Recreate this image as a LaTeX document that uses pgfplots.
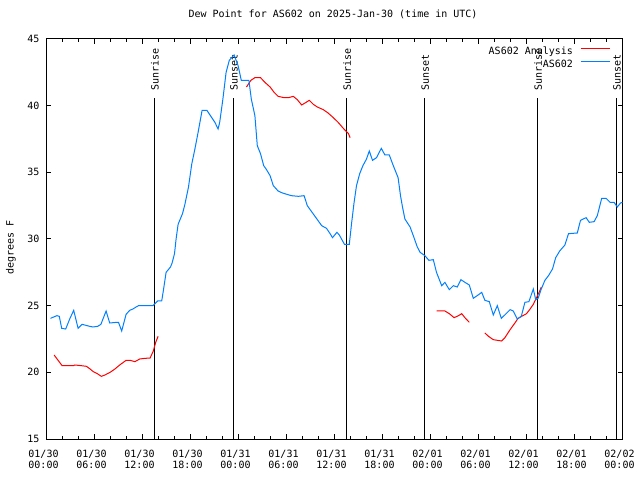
\documentclass[border=0pt]{standalone}
\usepackage{pgfplots}
\pgfplotsset{compat=1.18}
\usepackage{fontspec}
\setmainfont{DejaVu Sans Mono}
\definecolor{anared}{RGB}{255,0,0}
\definecolor{obsblue}{RGB}{0,128,255}
\begin{document}
\fontsize{10bp}{11bp}\selectfont
\begin{tikzpicture}
\useasboundingbox (-46.5bp,-41bp) rectangle (593.5bp,439bp);
\begin{axis}[
  scale only axis, width=576bp, height=400bp,
  xmin=0, xmax=72, ymin=15, ymax=45,
  xtick={0,6,...,72},
  xticklabels={{01/30\\00:00},{01/30\\06:00},{01/30\\12:00},{01/30\\18:00},
               {01/31\\00:00},{01/31\\06:00},{01/31\\12:00},{01/31\\18:00},
               {02/01\\00:00},{02/01\\06:00},{02/01\\12:00},{02/01\\18:00},
               {02/02\\00:00}},
  minor x tick num=2,
  ytick={15,20,...,45},
  tick align=inside,
  major tick length=5bp, minor tick length=3bp,
  every tick/.append style={black, line width=1bp},
  axis line style={black, line width=1bp},
  /pgf/number format/assume math mode=true,
  ticklabel style={font=\fontsize{10bp}{11bp}\selectfont},
  xticklabel style={align=center, anchor=north, inner sep=0pt, yshift=-11bp, xshift=-3bp},
  yticklabel style={anchor=east, inner sep=0pt, xshift=-7bp},
  title={Dew Point for AS602 on 2025-Jan-30 (time in UTC)},
  title style={at={(axis description cs:0.4974,1.0475)}, anchor=center, inner sep=0pt, font=\fontsize{10bp}{11bp}\selectfont},
  ylabel={degrees F},
  ylabel style={at={(axis description cs:-0.0616,0.479)}, anchor=center, inner sep=0pt, font=\fontsize{10bp}{11bp}\selectfont},
  unbounded coords=jump,
  legend plot pos=right,
  legend cell align=right,
  legend image code/.code={\draw[#1] (0bp,3.5bp) -- (29bp,3.5bp);},
  legend style={draw=none, fill=none, inner sep=0pt, outer sep=0pt,
    at={(axis description cs:0.9783,0.981)}, anchor=north east,
    row sep=3bp, column sep=7bp,
    nodes={inner sep=0pt, text height=7.5bp, text depth=2.5bp},
    font=\fontsize{10bp}{11bp}\selectfont},
]
% sunrise / sunset lines
\addplot[black, line width=1bp, forget plot] coordinates {(13.47,15) (13.47,40.6)};
\addplot[black, line width=1bp, forget plot] coordinates {(23.35,15) (23.35,40.6)};
\addplot[black, line width=1bp, forget plot] coordinates {(37.5,15) (37.5,40.6)};
\addplot[black, line width=1bp, forget plot] coordinates {(47.25,15) (47.25,40.6)};
\addplot[black, line width=1bp, forget plot] coordinates {(61.375,15) (61.375,40.6)};
\addplot[black, line width=1bp, forget plot] coordinates {(71.22,15) (71.22,40.6)};
\node[rotate=90, anchor=west, inner sep=0pt] at (axis cs:13.55,41.1) {Sunrise};
\node[rotate=90, anchor=west, inner sep=0pt] at (axis cs:23.43,41.1) {Sunset};
\node[rotate=90, anchor=west, inner sep=0pt] at (axis cs:37.58,41.1) {Sunrise};
\node[rotate=90, anchor=west, inner sep=0pt] at (axis cs:47.33,41.1) {Sunset};
\node[rotate=90, anchor=west, inner sep=0pt] at (axis cs:61.45,41.1) {Sunrise};
\node[rotate=90, anchor=west, inner sep=0pt] at (axis cs:71.3,41.1) {Sunset};
% analysis
\addplot[anared, line width=1bp] coordinates {
(0.95,21.3) (1.45,20.9) (1.95,20.5) (3.35,20.5) (3.55,20.55) (4.35,20.5) (5.0,20.45)
(5.45,20.25) (5.85,20.05) (6.35,19.9) (6.85,19.7) (7.3,19.8) (7.95,20.0) (8.55,20.25)
(9.15,20.55) (9.95,20.9) (10.45,20.9) (11.05,20.8) (11.65,21.0) (12.3,21.05) (12.95,21.07)
(13.35,21.6) (13.65,22.25) (13.95,22.7)
(14.5,nan)
(25.0,41.4) (25.55,41.9) (26.05,42.1) (26.75,42.1) (27.3,41.75) (27.95,41.4) (28.45,41.0)
(28.95,40.7) (29.7,40.6) (30.25,40.6) (30.85,40.7) (31.35,40.45) (31.9,40.05) (32.45,40.25)
(32.85,40.4) (33.35,40.1) (33.85,39.9) (34.6,39.7) (35.2,39.45) (35.85,39.1) (36.45,38.75)
(37.1,38.3) (37.75,37.9) (37.95,37.6)
(40,nan)
(48.75,24.6) (49.8,24.6) (50.35,24.4) (50.95,24.1) (51.5,24.25) (51.9,24.4) (52.3,24.1) (52.85,23.75)
(53.5,nan)
(54.8,22.95) (55.25,22.7) (55.85,22.45) (56.35,22.4) (56.9,22.35) (57.3,22.6) (57.95,23.2)
(58.55,23.7) (58.95,24.05) (59.55,24.25) (60.0,24.4) (60.45,24.75) (60.85,25.1) (61.25,25.6)
(61.65,26.1) (61.85,26.4)
};
\addlegendentry{AS602 Analysis}
% observations
\addplot[obsblue, line width=1bp] coordinates {
(0.5,24.05) (1.3,24.25) (1.6,24.2) (1.9,23.3) (2.4,23.25) (2.9,24.0) (3.4,24.65) (3.95,23.3)
(4.45,23.6) (5.4,23.45) (5.8,23.4) (6.4,23.45) (6.8,23.6) (7.45,24.6) (7.9,23.7) (8.8,23.75)
(9.0,23.75) (9.4,23.1) (9.95,24.35) (10.4,24.65) (10.8,24.75) (11.2,24.9) (11.5,25.0) (13.3,25.0)
(13.9,25.35) (14.4,25.35) (14.6,26.1) (14.95,27.5) (15.5,27.9) (15.7,28.2) (16.0,28.9) (16.2,30.0)
(16.45,31.1) (17.0,31.9) (17.3,32.6) (17.75,33.9) (18.15,35.6) (18.55,36.75) (18.95,38.0)
(19.45,39.65) (20.05,39.65) (20.55,39.2) (21.05,38.75) (21.45,38.25) (21.65,38.75) (22.05,40.5)
(22.45,42.5) (22.85,43.4) (23.45,43.8) (23.95,43.0) (24.35,41.9) (25.0,41.9) (25.3,41.9)
(25.6,40.5) (26.05,39.25) (26.35,37.0) (26.75,36.4) (27.15,35.5) (27.45,35.25) (27.95,34.75)
(28.35,34.0) (28.95,33.6) (29.5,33.45) (30.6,33.25) (31.5,33.2) (32.2,33.25) (32.6,32.5)
(33.2,32.0) (33.8,31.5) (34.4,31.0) (35.0,30.8) (35.45,30.4) (35.75,30.1) (36.3,30.5) (36.6,30.3)
(37.25,29.6) (37.85,29.6) (38.15,31.25) (38.45,32.75) (38.75,34.0) (39.15,34.9) (39.55,35.5)
(40.0,36.0) (40.35,36.6) (40.75,35.9) (41.25,36.1) (41.85,36.8) (42.3,36.3) (42.85,36.3)
(43.35,35.5) (43.95,34.6) (44.25,33.25) (44.5,32.4) (44.8,31.5) (45.45,30.9) (45.85,30.25)
(46.35,29.4) (46.7,29.0) (47.3,28.75) (47.8,28.4) (48.35,28.45) (48.75,27.5) (49.4,26.5)
(49.8,26.75) (50.35,26.2) (50.85,26.5) (51.35,26.4) (51.8,26.95) (52.3,26.75) (52.85,26.55)
(53.35,25.55) (53.95,25.8) (54.4,26.0) (54.8,25.4) (55.35,25.3) (55.85,24.3) (56.35,25.0)
(56.85,24.05) (57.45,24.4) (57.95,24.7) (58.35,24.6) (58.85,24.0) (59.35,24.2) (59.8,25.25)
(60.3,25.3) (60.85,26.25) (61.15,25.45) (61.45,25.55) (61.85,26.25) (62.3,26.9) (62.75,27.25)
(63.25,27.75) (63.65,28.6) (64.15,29.1) (64.8,29.55) (65.25,30.4) (66.35,30.45) (66.75,31.4)
(67.45,31.6) (67.85,31.25) (68.45,31.3) (68.85,31.75) (69.4,33.05) (69.95,33.05) (70.45,32.75)
(70.95,32.75) (71.35,32.4) (71.75,32.7) (72.0,32.75)
};
\addlegendentry{AS602}
\end{axis}
\end{tikzpicture}
\end{document}
